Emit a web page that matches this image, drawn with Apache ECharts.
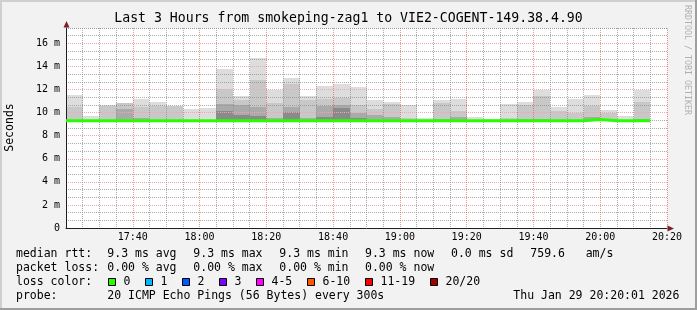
<!DOCTYPE html>
<html><head><meta charset="utf-8">
<script src="https://cdn.jsdelivr.net/npm/echarts@6/dist/echarts.min.js"></script>
<style>html,body{margin:0;padding:0;background:#f2f2f2}#c{width:697px;height:310px}</style>
</head><body><div id="c"></div><script>
// ---- data ----
const xTickLabels = ['17:20','17:40','18:00','18:20','18:40','19:00','19:20','19:40','20:00','20:20'];
const yTickLabels = ['0','2 m','4 m','6 m','8 m','10 m','12 m','14 m','16 m'];
// minutes after 17:20 at which each 5-minute step starts
const slotStart = [0,5,10,15,20,25,30,35,40,45,50,55,60,65,70,75,80,85,90,95,100,105,110,115,120,125,130,135,140,145,150,155,160,165,170];
// smoke bands (ms)
const smokeBottom = [9.3,9.3,9.3,9.3,9.3,9.3,9.3,9.3,9.3,9.3,9.3,9.3,9.3,9.3,9.3,9.3,9.3,9.3,9.3,9.3,9.3,9.3,9.3,9.3,9.3,9.3,9.3,9.3,9.3,9.3,9.3,9.4,9.3,9.3,9.3];
const smokeDarkest = [9.3,9.3,9.3,9.3,9.3,9.3,9.3,9.3,9.3,10.15,9.8,9.7,9.3,10.05,9.3,9.66,10.38,9.5,9.4,9.3,9.3,9.3,9.3,9.3,9.3,9.3,9.3,9.3,9.3,9.3,9.3,9.4,9.3,9.3,9.3];
const smokeDark = [9.3,9.3,9.3,10.35,9.55,9.3,9.3,9.3,9.3,10.75,10.67,10.45,9.5,10.45,9.55,10.58,10.67,9.95,9.8,9.6,9.3,9.3,9.45,9.6,9.3,9.3,9.3,9.45,9.45,9.4,9.4,9.66,9.45,9.3,9.45];
const smokeMid = [10.47,9.3,10.55,10.8,10.5,10.6,10.55,9.3,9.3,12.05,11.1,12.8,10.87,12.45,11.1,11.16,11.3,10.67,10.3,10.75,9.57,9.3,10.87,10.1,9.3,9.3,9.5,10.67,11.4,10.1,10.0,10.58,10.0,9.3,10.95];
const smokeTop = [11.53,9.72,10.65,10.87,11.15,10.95,10.6,10.3,10.4,13.78,11.47,14.75,11.96,13.03,11.47,12.3,12.5,12.22,11.1,10.95,10.67,9.54,11.1,11.18,9.63,9.48,10.75,10.95,12.0,10.52,11.16,11.53,10.23,9.74,12.0];
const medianRtt = [9.3,9.3,9.3,9.3,9.3,9.3,9.3,9.3,9.3,9.3,9.3,9.3,9.3,9.3,9.3,9.3,9.3,9.3,9.3,9.3,9.3,9.3,9.3,9.3,9.3,9.3,9.3,9.3,9.3,9.3,9.3,9.4,9.3,9.3,9.3];
const rttStats = ['9.3 ms avg','9.3 ms max','9.3 ms min','9.3 ms now','0.0 ms sd','759.6   am/s'];
const lossStats = ['0.00 % avg','0.00 % max','0.00 % min','0.00 % now'];
const lossLabels = ['0','1','2','3','4-5','6-10','11-19','20/20'];
const lossColors = ['#26ff00','#00b8ff','#0059ff','#7e00ff','#ff00ff','#ff5500','#ff0000','#a10000'];
const titleText = 'Last 3 Hours from smokeping-zag1 to VIE2-COGENT-149.38.4.90';
const probeText = '20 ICMP Echo Pings (56 Bytes) every 300s';
const dateText = 'Thu Jan 29 20:20:01 2026';

// ---- styles ----
const MONO = '"DejaVu Sans Mono", monospace';
const smokeColors = ['#dddddd','#c8c8c8','#aaaaaa','#8a8a8a'];
const GRID = 'rgba(143,143,143,0.75)';
const MGRID = 'rgba(222,79,79,0.6)';
const AXIS = '#1f1f1f';
const ARROW = '#801f1f';

const smokeData = [];
slotStart.forEach((s, i) => {
  const bands = [
    [smokeBottom[i], smokeDarkest[i], 3],
    [smokeDarkest[i], smokeDark[i], 2],
    [smokeDark[i], smokeMid[i], 1],
    [smokeMid[i], smokeTop[i], 0]
  ];
  bands.forEach(b => { if (b[1] > b[0]) smokeData.push([s, s + 5, b[0], b[1], b[2]]); });
});
const medianData = slotStart.map((s, i) => [s, medianRtt[i]]);
medianData.push([slotStart[slotStart.length - 1] + 5, medianRtt[medianRtt.length - 1]]);

const txt = (text, x, y, font, extra) => ({
  type: 'text', x, y, silent: true,
  style: Object.assign({ text, font, fill: '#000', align: 'left', verticalAlign: 'middle' }, extra || {})
});

const graphics = [
  // 3D frame
  { type: 'rect', shape: { x: 0, y: 0, width: 697, height: 2 }, style: { fill: '#cfcfcf' }, silent: true },
  { type: 'rect', shape: { x: 0, y: 0, width: 2, height: 310 }, style: { fill: '#cfcfcf' }, silent: true },
  { type: 'rect', shape: { x: 0, y: 308, width: 697, height: 2 }, style: { fill: '#9e9e9e' }, silent: true },
  { type: 'rect', shape: { x: 695, y: 0, width: 2, height: 310 }, style: { fill: '#9e9e9e' }, silent: true },
  // arrows
  { type: 'polygon', shape: { points: [[66.5, 21], [63.5, 27.5], [69.5, 27.5]] }, style: { fill: ARROW }, z: 20, silent: true },
  { type: 'polygon', shape: { points: [[674, 228.5], [667.5, 225.5], [667.5, 231.5]] }, style: { fill: ARROW }, z: 20, silent: true },
  txt(titleText, 348.5, 18.5, '13.2px ' + MONO, { align: 'center' }),
  Object.assign(txt('Seconds', 10.5, 127.5, '11.5px ' + MONO, { align: 'center' }), { rotation: Math.PI / 2 }),
  Object.assign(txt('RRDTOOL / TOBI OETIKER', 687.5, 60, '8.3px ' + MONO, { align: 'center', fill: '#b0b0b0' }), { rotation: -Math.PI / 2 })
];
const LF = '11.5px ' + MONO;
const statX = [107.3, 193.3, 279.3, 365, 451, 530.3];
const rows = [254.3, 267.7, 282, 295.7];
graphics.push(txt('median rtt:', 16, rows[0], LF));
rttStats.forEach((t, i) => graphics.push(txt(t, statX[i], rows[0], LF)));
graphics.push(txt('packet loss:', 16, rows[1], LF));
lossStats.forEach((t, i) => graphics.push(txt(t, statX[i], rows[1], LF)));
graphics.push(txt('loss color:', 16, rows[2], LF));
const boxX = [108.5, 145.5, 182.5, 219.5, 256.5, 307.5, 365.5, 430.5];
lossLabels.forEach((l, i) => {
  graphics.push({ type: 'rect', silent: true, shape: { x: boxX[i], y: 278.5, width: 7, height: 7 }, style: { fill: lossColors[i], stroke: '#000', lineWidth: 1 } });
  graphics.push(txt(l, boxX[i] + 15, rows[2], LF));
});
graphics.push(txt('probe:', 16, rows[3], LF));
graphics.push(txt(probeText, 107.3, rows[3], LF));
graphics.push(txt(dateText, 513.3, rows[3], LF));

const chart = echarts.init(document.getElementById('c'), null, { renderer: 'canvas' });
chart.setOption({
  backgroundColor: '#f2f2f2',
  animation: false,
  textStyle: { fontFamily: MONO },
  grid: { left: 66, right: 30, top: 28, bottom: 82, show: true, backgroundColor: '#ffffff', borderWidth: 0 },
  xAxis: {
    type: 'value', min: 0, max: 180, interval: 20, z: 5,
    axisLine: { show: true, lineStyle: { color: AXIS, width: 1 } },
    axisTick: { show: false },
    axisLabel: { color: '#000', fontFamily: MONO, fontSize: 10, margin: 4, showMinLabel: false, showMaxLabel: true,
      formatter: v => xTickLabels[Math.round(v / 20)] },
    splitLine: { show: true, showMinLine: false, showMaxLine: true, lineStyle: { color: MGRID, width: 1, type: [1, 1] } },
    minorTick: { show: false, splitNumber: 4 },
    minorSplitLine: { show: true, lineStyle: { color: GRID, width: 1, type: [1, 1] } }
  },
  yAxis: [
    {
      type: 'value', position: 'left', offset: 0, min: 0, max: 52 / 3, interval: 2 / 3, z: 4,
      axisLine: { show: false }, axisTick: { show: false }, axisLabel: { show: false },
      splitLine: { show: true, showMinLine: false, showMaxLine: true, lineStyle: { color: GRID, width: 1, type: [1, 1] } }
    },
    {
      type: 'value', position: 'left', offset: 0, min: 0, max: 52 / 3, interval: 2, z: 5,
      axisLine: { show: true, lineStyle: { color: AXIS, width: 1 } },
      axisTick: { show: false },
      axisLabel: { color: '#000', fontFamily: MONO, fontSize: 10, margin: 6, showMaxLabel: false,
        formatter: v => { const k = Math.round(v / 2); return Math.abs(v - 2 * k) < 1e-6 ? yTickLabels[k] : ''; } },
      splitLine: { show: true, showMinLine: false, showMaxLine: false, lineStyle: { color: '#f0a8a8', width: 1, type: [1, 1] } }
    }
  ],
  series: [
    {
      type: 'custom', xAxisIndex: 0, yAxisIndex: 1, z: 1, silent: true,
      data: smokeData,
      encode: { x: [0, 1], y: [2, 3] },
      renderItem: (params, api) => {
        const p1 = api.coord([api.value(0), api.value(3)]);
        const p2 = api.coord([api.value(1), api.value(2)]);
        const x1 = Math.round(p1[0]), x2 = Math.round(p2[0]);
        const y1 = Math.round(p1[1]), y2 = Math.round(p2[1]);
        return { type: 'rect', shape: { x: x1, y: y1, width: x2 - x1, height: y2 - y1 }, style: { fill: smokeColors[api.value(4)] } };
      }
    },
    {
      type: 'line', xAxisIndex: 0, yAxisIndex: 1, z: 10, silent: true,
      data: medianData, step: 'end', symbol: 'none',
      lineStyle: { color: '#26ff00', width: 3 }
    }
  ],
  graphic: graphics
});
</script></body></html>
